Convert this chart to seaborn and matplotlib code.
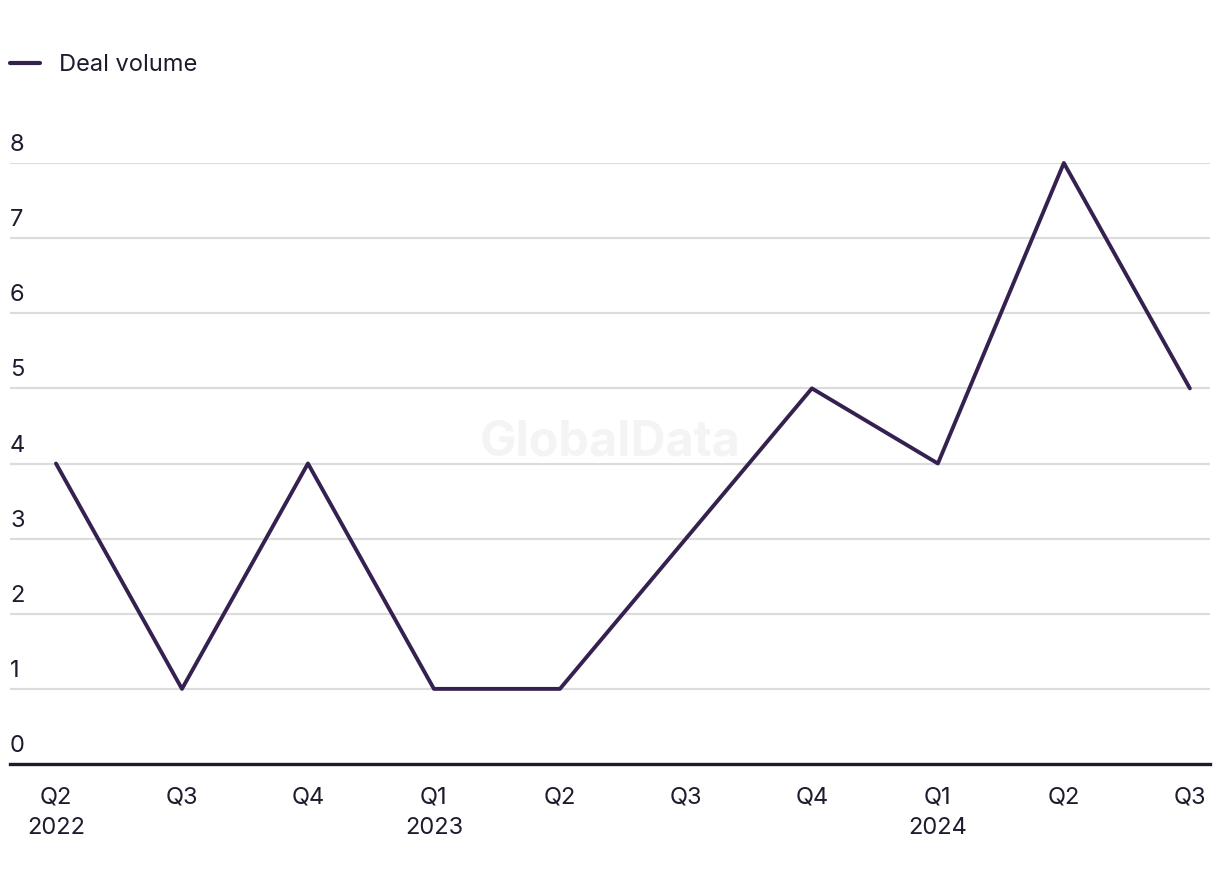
import matplotlib
matplotlib.use("Agg")
import matplotlib.pyplot as plt
import matplotlib.transforms as mtransforms
import seaborn as sns
import pandas as pd

quarters = ["Q2\n2022", "Q3", "Q4", "Q1\n2023", "Q2", "Q3", "Q4", "Q1\n2024", "Q2", "Q3"]
deal_volume = [4, 1, 4, 1, 1, 3, 5, 4, 8, 5]
yticks = [0, 1, 2, 3, 4, 5, 6, 7, 8]

sns.set_theme(style="white")
plt.rcParams["font.family"] = ["Inter", "DejaVu Sans"]

LINE = "#35214f"
TEXT = "#1c1c2e"
FS = 17

df = pd.DataFrame({"pos": range(len(quarters)), "value": deal_volume})

fig = plt.figure(figsize=(12.2, 8.84), dpi=100)
ax = fig.add_axes([10 / 1220, 1 - 764 / 884, 1200 / 1220, (764 - 163) / 884])

sns.lineplot(data=df, x="pos", y="value", ax=ax, color=LINE, linewidth=2.8,
             sort=False, label="Deal volume", clip_on=False, zorder=5)

ax.set_xlim(-0.365, 9.16)
ax.set_ylim(0, 8)
ax.set_yticks(yticks)
ax.set_yticklabels([str(v) for v in yticks])
ax.set_xticks(range(len(quarters)))
ax.set_xticklabels(quarters, linespacing=1.5)
ax.set_xlabel("")
ax.set_ylabel("")

ax.grid(axis="y", color="#dcdcdc", linewidth=1.6)
ax.grid(axis="x", visible=False)
ax.set_axisbelow(True)
for s in ["top", "right", "left"]:
    ax.spines[s].set_visible(False)
ax.spines["bottom"].set_color(TEXT)
ax.spines["bottom"].set_linewidth(2.4)
ax.spines["bottom"].set_zorder(6)

ax.tick_params(axis="y", length=0, pad=0, labelsize=FS, labelcolor=TEXT)
ax.tick_params(axis="x", length=0, pad=16, labelsize=FS, labelcolor=TEXT)
for lab in ax.get_yticklabels():
    lab.set_horizontalalignment("left")
    lab.set_verticalalignment("bottom")
    lab.set_transform(lab.get_transform() + mtransforms.ScaledTranslation(0.0, 0.07, fig.dpi_scale_trans))
for lab in ax.get_xticklabels():
    lab.set_verticalalignment("top")
    lab.set_horizontalalignment("center")

ax.text(0.5, 0.535, "GlobalData", transform=ax.transAxes, ha="center", va="center",
        fontsize=35, fontweight="bold", color="#f4f4f4", zorder=0)

leg = ax.legend(loc="upper left", bbox_to_anchor=(10 / 1220, 1 - 54 / 884),
                bbox_transform=fig.transFigure, frameon=False, fontsize=FS,
                handlelength=1.27, handletextpad=0.8, borderpad=0, borderaxespad=0)
for t in leg.get_texts():
    t.set_color(TEXT)
for h in leg.get_lines():
    h.set_linewidth(3)

fig.savefig("out.png", dpi=100, facecolor="white")
